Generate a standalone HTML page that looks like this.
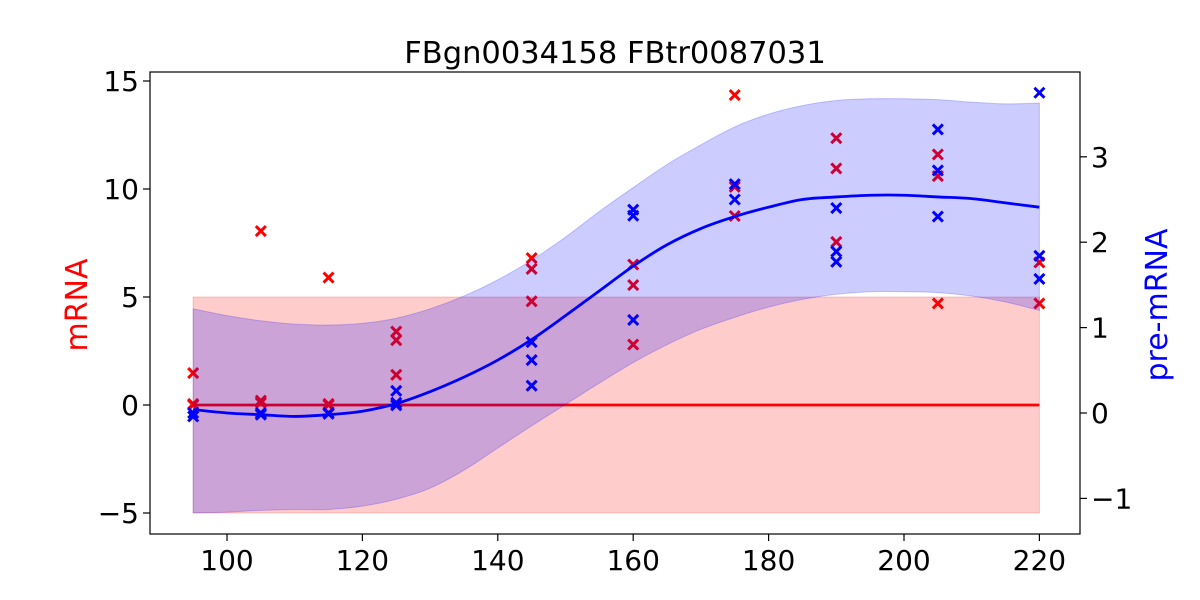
<!DOCTYPE html>
<html><head><meta charset="utf-8"><style>
html,body{margin:0;padding:0;background:#fff;}
svg{display:block;font-family:"DejaVu Sans","Liberation Sans",sans-serif;}
</style></head><body>
<svg id="chart" width="1200" height="600" viewBox="0 0 1200 600">
<text x="615" y="63" text-anchor="middle" font-size="30.5">FBgn0034158 FBtr0087031</text>
<text transform="translate(87,305) rotate(-90)" text-anchor="middle" font-size="30" fill="red">mRNA</text>
<text transform="translate(1167,305) rotate(-90)" text-anchor="middle" font-size="30" fill="blue">pre-mRNA</text>
<g id="plot"></g>
<rect x="150" y="72" width="930" height="462" fill="none" stroke="#000" stroke-width="1.2"/>
<g id="axes"></g>
</svg>
<script>
const xTicks=[100,120,140,160,180,200,220];
const leftTicks=[-5,0,5,10,15];
const rightTicks=[-1,0,1,2,3];
const mrnaTimes=[95,95,95,105,105,105,115,115,115,125,125,125,125,145,145,145,160,160,160,175,175,175,190,190,190,205,205,205,220,220];
const mrnaValues=[1.48,0,0.05,8.05,0.1,0.2,5.9,0.05,0,3.4,3.0,1.4,0,6.8,6.3,4.8,6.5,5.55,2.8,14.35,10.1,8.75,12.35,10.95,7.55,11.6,10.6,4.7,6.6,4.7];
const preTimes=[95,95,105,105,115,115,125,125,125,145,145,145,160,160,160,175,175,190,190,190,205,205,205,220,220,220];
const preValues=[0,-0.04,0,-0.02,0,-0.01,0.26,0.12,0.09,0.83,0.62,0.32,2.38,2.31,1.09,2.68,2.5,2.4,1.89,1.77,3.32,2.84,2.3,3.75,1.84,1.57];
const mrnaMean=0, mrnaBandLow=-5, mrnaBandHigh=5;
const gridT=[95,100,105,110,115,120,125,130,135,140,145,150,155,160,165,170,175,180,185,190,195,200,205,210,215,220];
const preMean=[0.04,0,-0.02,-0.04,-0.02,0.02,0.11,0.25,0.42,0.62,0.86,1.14,1.43,1.72,1.97,2.16,2.30,2.41,2.50,2.53,2.55,2.55,2.53,2.51,2.46,2.41];
const preUpper=[1.22,1.14,1.08,1.04,1.03,1.05,1.11,1.22,1.37,1.56,1.79,2.06,2.36,2.64,2.91,3.14,3.35,3.50,3.60,3.66,3.68,3.68,3.67,3.64,3.62,3.63];
const preLower=[-1.17,-1.16,-1.14,-1.13,-1.13,-1.09,-1.01,-0.88,-0.67,-0.41,-0.15,0.10,0.35,0.59,0.80,0.98,1.12,1.24,1.33,1.39,1.42,1.42,1.41,1.37,1.30,1.20];

const NS="http://www.w3.org/2000/svg";
const X=t=>227+(t-100)*6.77;
const YL=v=>405-v*21.6;
const YR=v=>413-v*85.4;
const plot=document.getElementById('plot'), axes=document.getElementById('axes');
function mk(tag,attrs,parent){const e=document.createElementNS(NS,tag);for(const k in attrs)e.setAttribute(k,attrs[k]);parent.appendChild(e);return e;}
function smooth(pts){let d='M'+pts[0][0]+','+pts[0][1];for(let i=0;i<pts.length-1;i++){const p0=pts[Math.max(i-1,0)],p1=pts[i],p2=pts[i+1],p3=pts[Math.min(i+2,pts.length-1)];d+=` C${p1[0]+(p2[0]-p0[0])/6},${p1[1]+(p2[1]-p0[1])/6} ${p2[0]-(p3[0]-p1[0])/6},${p2[1]-(p3[1]-p1[1])/6} ${p2[0]},${p2[1]}`;}return d;}
function cross(x,y,col,name){const g=mk('path',{d:`M${x-5},${y-5}L${x+5},${y+5}M${x-5},${y+5}L${x+5},${y-5}`,stroke:col,'stroke-width':3},plot);

}
const rb=mk('rect',{x:X(95),y:YL(mrnaBandHigh),width:X(220)-X(95),height:YL(mrnaBandLow)-YL(mrnaBandHigh),fill:'red','fill-opacity':0.2,stroke:'red','stroke-opacity':0.2},plot);


const rl=mk('line',{x1:X(95),x2:X(220),y1:YL(mrnaMean),y2:YL(mrnaMean),stroke:'red','stroke-width':2.7},plot);


mrnaTimes.forEach((t,i)=>cross(X(t),YL(mrnaValues[i]),'red','mrna-point'));
const up=gridT.map((t,i)=>[X(t),YR(preUpper[i])]);
const lo=gridT.map((t,i)=>[X(t),YR(preLower[i])]).reverse();
const lod=smooth(lo);
const bd=smooth(up)+' L'+lo[0][0]+','+lo[0][1]+lod.slice(lod.indexOf(' C'))+' Z';
const bb=mk('path',{d:bd,fill:'blue','fill-opacity':0.2,stroke:'blue','stroke-opacity':0.2},plot);


const bl=mk('path',{d:smooth(gridT.map((t,i)=>[X(t),YR(preMean[i])])),fill:'none',stroke:'blue','stroke-width':2.8},plot);


preTimes.forEach((t,i)=>cross(X(t),YR(preValues[i]),'blue','pre-mrna-point'));
xTicks.forEach(t=>{const l=mk('line',{x1:X(t),x2:X(t),y1:534,y2:541,stroke:'#000','stroke-width':1.2},axes);


const tx=mk('text',{x:X(t),y:570,'text-anchor':'middle','font-size':28},axes);tx.textContent=t;

});
leftTicks.forEach(v=>{const l=mk('line',{x1:143,x2:150,y1:YL(v),y2:YL(v),stroke:'#000','stroke-width':1.2},axes);


const tx=mk('text',{x:139,y:YL(v)+10,'text-anchor':'end','font-size':28},axes);tx.textContent=v<0?'\u2212'+(-v):v;

});
rightTicks.forEach(v=>{const l=mk('line',{x1:1080,x2:1087,y1:YR(v),y2:YR(v),stroke:'#000','stroke-width':1.2},axes);


const tx=mk('text',{x:1091,y:YR(v)+10,'text-anchor':'start','font-size':28},axes);tx.textContent=v<0?'\u2212'+(-v):v;

});
</script>
</body></html>
